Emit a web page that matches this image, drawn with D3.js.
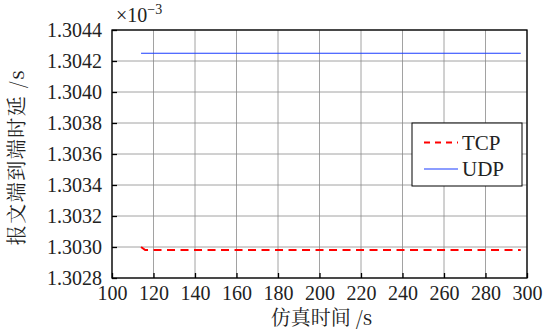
<!DOCTYPE html>
<html lang="en">
<head>
<meta charset="UTF-8">
<title>delay</title>
<style>
  body { margin: 0; background: #fff; }
  svg text { font-family: "Liberation Serif", "DejaVu Serif", "Noto Serif CJK SC", serif !important; }
  svg text.cjk { font-family: "Noto Serif CJK SC", "Noto Sans CJK SC", sans-serif !important; }
</style>
</head>
<body>
<div id="chart"></div>
<script src="https://d3js.org/d3.v7.min.js"></script>
<script>
// data (delay in units of 10^-3 s)
var tcpTime = [114, 116, 297];
var tcpDelay = [1.30300, 1.30298, 1.30298];
var udpTime = [114, 297];
var udpDelay = [1.30425, 1.30425];
var xTicks = [100, 120, 140, 160, 180, 200, 220, 240, 260, 280, 300];
var yTicks = [1.3028, 1.3030, 1.3032, 1.3034, 1.3036, 1.3038, 1.3040, 1.3042, 1.3044];
var seriesNames = ["TCP", "UDP"];

var margin = {top: 30, right: 23, bottom: 55, left: 112},
    width = 550 - margin.left - margin.right,
    height = 333 - margin.top - margin.bottom;

var svg = d3.select("#chart").append("svg")
    .attr("width", 550)
    .attr("height", 333)
  .append("g")
    .attr("transform", "translate(" + margin.left + "," + margin.top + ")");

var x = d3.scaleLinear().domain([100, 300]).range([0, width]);
var y = d3.scaleLinear().domain([1.3028, 1.3044]).range([height, 0]);

// grid
svg.append("g").selectAll("line").data(xTicks).enter().append("line")
  .attr("x1", d => x(d)).attr("x2", d => x(d))
  .attr("y1", 0).attr("y2", height)
  .attr("stroke", "#8a8a8a").attr("stroke-width", 0.8);
svg.append("g").selectAll("line").data(yTicks).enter().append("line")
  .attr("x1", 0).attr("x2", width)
  .attr("y1", d => y(d)).attr("y2", d => y(d))
  .attr("stroke", "#8a8a8a").attr("stroke-width", 0.8);

// axes
var xAxis = svg.append("g")
  .attr("transform", "translate(0," + height + ")")
  .call(d3.axisBottom(x).tickValues(xTicks).tickSize(-5).tickPadding(8).tickFormat(d3.format("d")));
var yAxis = svg.append("g")
  .call(d3.axisLeft(y).tickValues(yTicks).tickSize(-5).tickPadding(10).tickFormat(d3.format(".4f")));
[xAxis, yAxis].forEach(function(a) {
  a.attr("font-family", null).attr("font-size", null);
  a.select(".domain").remove();
  a.selectAll("line").attr("stroke", "#000").attr("stroke-width", 1.3);
  a.selectAll("text").attr("font-size", "20px").attr("fill", "#222");
});

// lines
var line = d3.line().x(d => x(d[0])).y(d => y(d[1]));
svg.append("path")
  .datum(udpTime.map((t, i) => [t, udpDelay[i]]))
  .attr("d", line).attr("fill", "none")
  .attr("stroke", "#1a3cff").attr("stroke-width", 1.2);
svg.append("path")
  .datum(tcpTime.map((t, i) => [t, tcpDelay[i]]))
  .attr("d", line).attr("fill", "none")
  .attr("stroke", "#ff0000").attr("stroke-width", 2)
  .attr("stroke-dasharray", "8,5.5");

// border
svg.append("rect")
  .attr("width", width).attr("height", height)
  .attr("fill", "none").attr("stroke", "#000").attr("stroke-width", 1.3);

// multiplier
var mult = svg.append("text")
  .attr("x", 4).attr("y", -8)
  .attr("font-size", "20px").attr("fill", "#222");
mult.append("tspan").text("×10");
mult.append("tspan").attr("dy", -8).attr("font-size", "14px").text("−3");

// legend
var legend = svg.append("g").attr("transform", "translate(" + (412 - margin.left) + "," + (123 - margin.top) + ")");
legend.append("rect")
  .attr("width", 110).attr("height", 63)
  .attr("fill", "#fff").attr("stroke", "#000").attr("stroke-width", 1);
var legendItem = legend.selectAll("g.item").data(seriesNames).enter().append("g")
  .attr("class", "item")
  .attr("transform", (d, i) => "translate(0," + (19.5 + i * 26.5) + ")");
legendItem.append("line")
  .attr("x1", 12).attr("x2", 46)
  .attr("stroke", d => d === "TCP" ? "#ff0000" : "#1a3cff")
  .attr("stroke-width", d => d === "TCP" ? 2 : 1.2)
  .attr("stroke-dasharray", d => d === "TCP" ? "6,5" : null);
legendItem.append("text")
  .attr("x", 50).attr("dy", "0.35em")
  .attr("font-size", "21px").attr("fill", "#222")
  .text(d => d);

// axis titles
svg.append("text")
  .attr("class", "cjk")
  .attr("x", width / 2 + 2).attr("y", height + 47)
  .attr("text-anchor", "middle")
  .attr("font-size", "20px").attr("fill", "#222")
  .text("仿真时间 /s");
svg.append("text")
  .attr("class", "cjk")
  .attr("transform", "translate(" + (-88) + "," + (height / 2 + 3) + ") rotate(-90)")
  .attr("text-anchor", "middle")
  .attr("font-size", "20px").attr("fill", "#222")
  .attr("letter-spacing", "1.5px")
  .text("报文端到端时延 /s");
</script>
</body>
</html>
